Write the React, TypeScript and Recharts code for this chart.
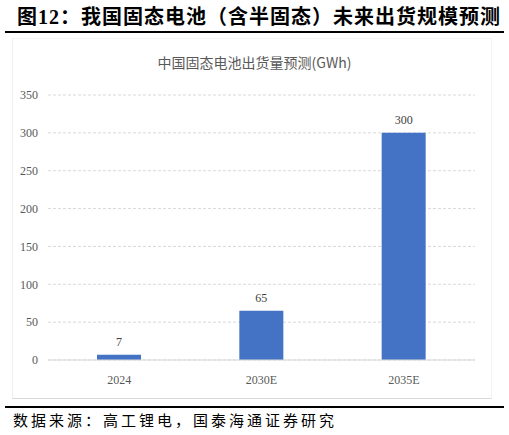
import React from "react"
import { BarChart, Bar, XAxis, YAxis, CartesianGrid, LabelList } from "recharts"

const categories = ["2024", "2030E", "2035E"]
const shipments = [7, 65, 300]
const yTicks = [0, 50, 100, 150, 200, 250, 300, 350]

const chartData = categories.map((year, i) => ({ year, value: shipments[i] }))

const serif = "'Liberation Serif', 'Times New Roman', serif"
const cjk = "'Noto Sans CJK SC', sans-serif"

export default function App() {
  return (
    <div style={{ position: "absolute", left: 0, top: 0, width: 509, height: 435, background: "#fff", overflow: "hidden" }}>
      <style>{`.chart-box text { font-family: ${serif} !important; }`}</style>
      <div
        style={{
          position: "absolute",
          left: 17,
          top: 3,
          fontFamily: cjk,
          fontWeight: 700,
          fontSize: 20,
          letterSpacing: 1,
          lineHeight: "26px",
          color: "#000",
          whiteSpace: "nowrap",
        }}
      >
        图<span style={{ fontFamily: serif }}>12</span>：我国固态电池（含半固态）未来出货规模预测
      </div>
      <div style={{ position: "absolute", left: 5, top: 31, width: 499, height: 2, background: "#000" }} />

      <div style={{ position: "absolute", left: 12, top: 38, width: 478, height: 359, borderLeft: "1px solid #eee", borderBottom: "1px solid #d9d9d9", borderTop: "1px solid #f4f4f4", borderRight: "1px solid #f4f4f4" }} />
      <div
        style={{
          position: "absolute",
          left: 0,
          width: 509,
          top: 52,
          textAlign: "center",
          fontFamily: cjk,
          fontSize: 14,
          color: "#595959",
          whiteSpace: "nowrap",
        }}
      >
        中国固态电池出货量预测(GWh)
      </div>

      <div className="chart-box" style={{ position: "absolute", left: 0, top: 0 }}>
        <BarChart
          width={509}
          height={435}
          data={chartData}
          margin={{ top: 95, right: 34, bottom: 45, left: 8 }}
        >
          <CartesianGrid vertical={false} stroke="#d9d9d9" strokeDasharray="3 2" />
          <XAxis
            dataKey="year"
            tickLine={false}
            axisLine={{ stroke: "#d9d9d9" }}
            tick={{ fill: "#595959", fontSize: 12 }}
            tickMargin={9}
            height={30}
          />
          <YAxis
            width={40}
            domain={[0, 350]}
            ticks={yTicks}
            tickLine={false}
            axisLine={false}
            tickSize={0}
            tickMargin={10}
            tick={{ fill: "#595959", fontSize: 12 }}
          />
          <Bar dataKey="value" fill="#4472C4" barSize={44} isAnimationActive={false}>
            <LabelList dataKey="value" position="top" offset={9} fill="#404040" fontSize={12} />
          </Bar>
        </BarChart>
      </div>

      <div style={{ position: "absolute", left: 5, top: 406, width: 499, height: 2, background: "#000" }} />
      <div
        style={{
          position: "absolute",
          left: 13,
          top: 409,
          fontFamily: cjk,
          fontSize: 15,
          letterSpacing: 3,
          color: "#000",
          whiteSpace: "nowrap",
        }}
      >
        数据来源：高工锂电，国泰海通证券研究
      </div>
    </div>
  )
}
